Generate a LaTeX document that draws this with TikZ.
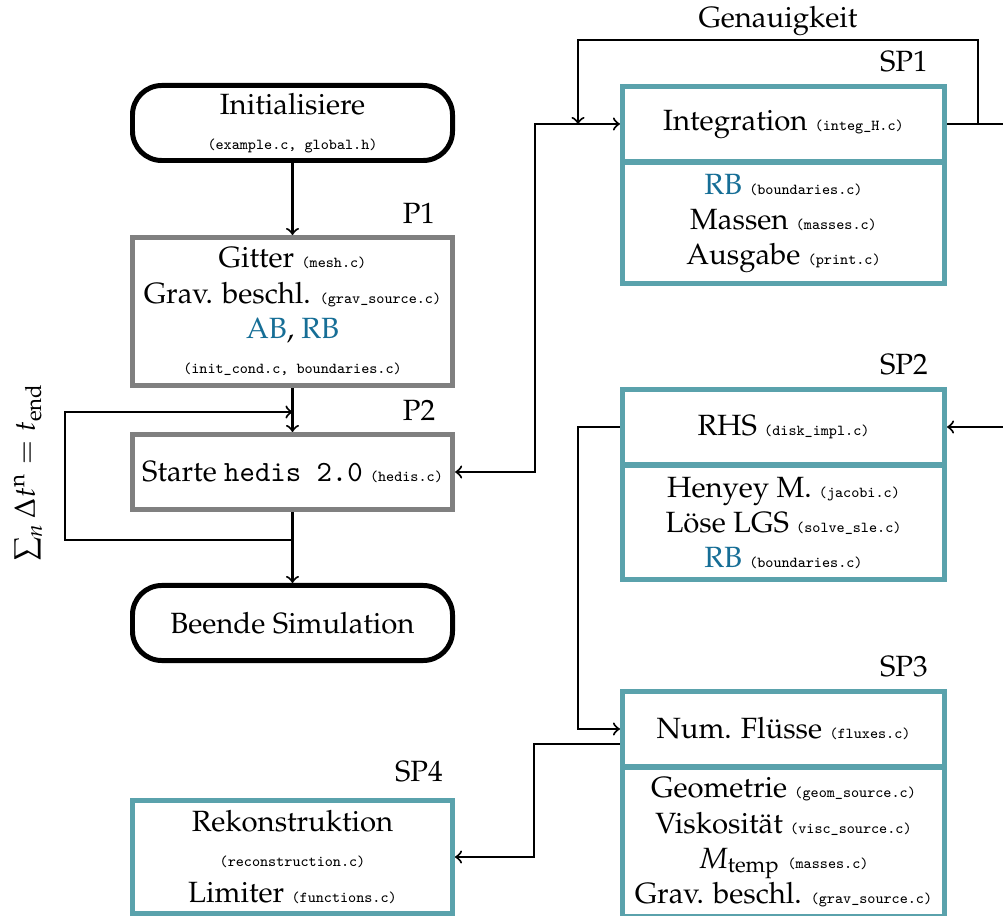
\documentclass[tikz,border=0pt]{standalone}
\usepackage[T1]{fontenc}
\usepackage{mathpazo}
\usepackage{amsmath}
\usepackage{tikz}

\definecolor{rbblue}{RGB}{22,110,150}
\definecolor{boxteal}{RGB}{90,162,172}
\definecolor{boxgray}{RGB}{128,128,128}

\newcommand{\lmmono}{\fontencoding{TU}\fontfamily{lmtt}\selectfont}
\newcommand{\code}[1]{{\lmmono #1}}
\newcommand{\srcfile}[1]{{\fontsize{5.2pt}{6pt}\lmmono(#1)}}
\newcommand{\rb}[1]{\textcolor{rbblue}{#1}}

\tikzset{
  startstop/.style={rectangle, rounded corners=10pt, draw=black, line width=1.7pt,
    minimum width=109.2pt, minimum height=25.6pt, align=center, inner ysep=1pt},
  mainbox/.style={rectangle, draw=boxgray, line width=1.7pt,
    minimum width=109.2pt, minimum height=25.6pt, align=center, inner ysep=1pt},
  subbox/.style={rectangle, draw=boxteal, line width=1.7pt,
    minimum width=109.9pt, minimum height=25.6pt, align=center, inner ysep=1pt},
  boxlabel/.style={anchor=south, inner sep=0pt},
  conn/.style={line width=0.7pt},
}

\begin{document}
\begin{tikzpicture}[x=0.012cm, y=-0.012cm]
  \useasboundingbox (0,0) rectangle (1003,916);

  \node[startstop] (init) at (292.5,123) {Initialisiere\\ \srcfile{example.c, global.h}};
  \node[mainbox, minimum height=50.5pt] (p1) at (292.5,311.5) {Gitter \srcfile{mesh.c}\\ Grav. beschl. \srcfile{grav\_source.c}\\ \rb{AB}, \rb{RB}\\ \srcfile{init\_cond.c, boundaries.c}};
  \node[mainbox] (p2) at (292.5,472) {Starte \code{hedis 2.0} \srcfile{hedis.c}};
  \node[startstop] (end) at (292.5,623) {Beende Simulation};
  \node[subbox, minimum width=109.2pt, minimum height=38.6pt] (sp4) at (292.5,857) {Rekonstruktion\\ \srcfile{reconstruction.c}\\ Limiter \srcfile{functions.c}};

  \node[subbox] (sp1a) at (783.5,124) {Integration \srcfile{integ\_H.c}};
  \node[subbox, anchor=north, minimum height=41.1pt] (sp1b) at ([yshift=1.2pt]sp1a.south) {\rb{RB} \srcfile{boundaries.c}\\ Massen \srcfile{masses.c}\\ Ausgabe \srcfile{print.c}};
  \node[subbox] (sp2a) at (783.5,427) {RHS \srcfile{disk\_impl.c}};
  \node[subbox, anchor=north, minimum height=38.7pt] (sp2b) at ([yshift=1.2pt]sp2a.south) {Henyey M. \srcfile{jacobi.c}\\ L\"ose LGS \srcfile{solve\_sle.c}\\ \rb{RB} \srcfile{boundaries.c}};
  \node[subbox] (sp3a) at (783.5,729) {Num. Fl\"usse \srcfile{fluxes.c}};
  \node[subbox, anchor=north, minimum height=50.7pt] (sp3b) at ([yshift=1.2pt]sp3a.south) {Geometrie \srcfile{geom\_source.c}\\ Viskosit\"at \srcfile{visc\_source.c}\\ $M_\mathrm{temp}$ \srcfile{masses.c}\\ Grav. beschl. \srcfile{grav\_source.c}};

  \node[boxlabel] (lp1) at ([xshift=-12.3pt,yshift=3.8pt]p1.north east) {P1};
  \node[boxlabel] (lp2) at ([xshift=-12.3pt,yshift=3.8pt]p2.north east) {P2};
  \node[boxlabel] (lsp4) at ([xshift=-12.3pt,yshift=5.1pt]sp4.north east) {SP4};
  \node[boxlabel] (lsp1) at ([xshift=-14.7pt,yshift=3.8pt]sp1a.north east) {SP1};
  \node[boxlabel] (lsp2) at ([xshift=-14.7pt,yshift=3.8pt]sp2a.north east) {SP2};
  \node[boxlabel] (lsp3) at ([xshift=-14.7pt,yshift=3.8pt]sp3a.north east) {SP3};

  \draw[conn,->] (init) -- (p1);
  \draw[conn,->] (p1) -- (p2);
  \draw[conn,->] (p2) -- (end);
  \coordinate (loopout) at (292.5,540);
  \coordinate (loopin) at (292.5,412);
  \draw[conn,->] (loopout) -- ++(-227.5,0) |- (loopin);
  \node[rotate=90] (tsum) at (28,472) {$\sum_n \Delta t^\mathrm{n} = t_\mathrm{end}$};

  \draw[conn,<->] (p2.east) -- ++(80,0) |- (sp1a.west);
  \draw[conn,->] (sp1a.east) -- ++(31,0) -- ++(0,-84) -- node[above, inner sep=1pt] (acc) {Genauigkeit} ++(-400,0) -- ++(0,84);
  \draw[conn,->] (sp1a.east) -- ++(70,0) |- (sp2a.east);
  \draw[conn,->] (sp2a.west) -- ++(-42,0) |- (sp3a.west);
  \draw[conn,->] ([yshift=-5.1pt]sp3a.west) -- ++(-86,0) |- (sp4.east);
\end{tikzpicture}
\end{document}
